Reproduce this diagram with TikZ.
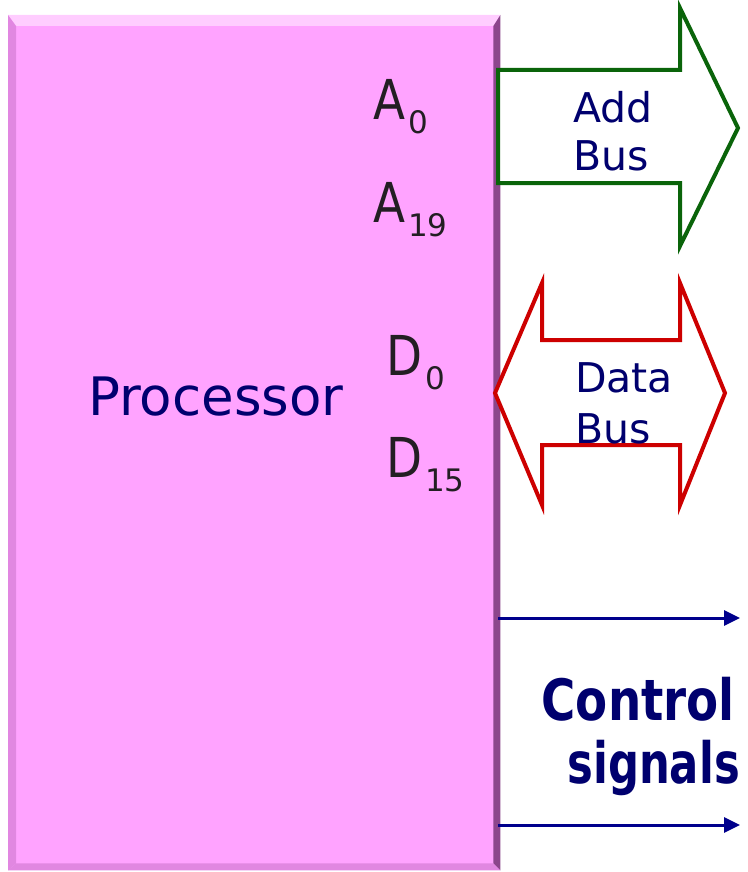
\documentclass[tikz,border=0pt]{standalone}
\usepackage{fontspec}
\usepackage{graphicx}
\usetikzlibrary{arrows.meta}
\setmainfont{DejaVu Sans}
\newfontfamily\lblfont[FakeStretch=0.85]{DejaVu Sans}
\newfontfamily\ctlfont[FakeStretch=0.82]{DejaVu Sans Bold}
\newfontfamily\sigfont[FakeStretch=0.76]{DejaVu Sans Bold}
\definecolor{procpink}{RGB}{255,163,255}
\definecolor{bevlight}{RGB}{255,205,255}
\definecolor{bevdark}{RGB}{140,70,140}
\definecolor{bevmid}{RGB}{225,135,225}
\definecolor{navytext}{RGB}{0,0,110}
\definecolor{labeltext}{RGB}{35,30,35}
\definecolor{addgreen}{RGB}{10,100,10}
\definecolor{datared}{RGB}{205,0,0}
\definecolor{ctlblue}{RGB}{0,0,140}
\tikzset{
  txt/.style={inner sep=0pt, anchor=base west, text=navytext},
  lbl/.style={inner sep=0pt, anchor=base west, text=labeltext, font=\lblfont\fontsize{55}{55}\selectfont},
  busshape/.style={line width=4pt, line join=miter, fill=white},
  ctl/.style={line width=3pt, draw=ctlblue, -{Triangle[length=16pt,width=15pt]}}
}
\newcommand{\subtxt}[1]{\kern3pt\raisebox{-14pt}{\rmfamily\fontsize{31}{31}\selectfont #1}}
\begin{document}
\begin{tikzpicture}[x=1pt,y=-1pt]
\useasboundingbox (0,0) rectangle (747,872);
% processor box with bevel
\node (box) [draw=none, fill=procpink, minimum width=492pt, minimum height=855pt, inner sep=0pt, anchor=north west] at (8,15) {};
\fill[bevlight] (box.north west) -- (box.north east) -- ([shift={(-7pt,-11pt)}]box.north east) -- ([shift={(8pt,-11pt)}]box.north west) -- cycle;
\fill[bevdark] (box.north east) -- (box.south east) -- ([shift={(-7pt,7pt)}]box.south east) -- ([shift={(-7pt,-11pt)}]box.north east) -- cycle;
\fill[bevmid] (box.north west) -- ([shift={(8pt,-11pt)}]box.north west) -- ([shift={(8pt,7pt)}]box.south west) -- (box.south west) -- cycle;
\fill[bevmid] (box.south west) -- ([shift={(8pt,7pt)}]box.south west) -- ([shift={(-7pt,7pt)}]box.south east) -- (box.south east) -- cycle;
% processor text
\node (proc) [txt, font=\fontsize{53}{53}\selectfont] at (88,415) {Processor};
% pin labels
\node (a0) [lbl] at (373,120) {A\subtxt{0}};
\node (a19) [lbl] at (373,222) {A\subtxt{19}};
\node (d0) [lbl] at (386,375) {D\subtxt{0}};
\node (d15) [lbl] at (386,477) {D\subtxt{15}};
% address bus arrow
\draw[busshape, draw=addgreen] (498,70) -- (680,70) -- (680,8) -- (738,128) -- (680,246) -- (680,183) -- (498,183) -- cycle;
\node (addt) [txt, font=\fontsize{41}{41}\selectfont] at (573,122) {Add};
\node (addb) [txt, font=\fontsize{41}{41}\selectfont] at (573,170) {Bus};
% data bus arrow
\draw[busshape, draw=datared] (495,393) -- (542,283) -- (542,340) -- (680,340) -- (680,283) -- (725,393) -- (680,505) -- (680,445) -- (542,445) -- (542,505) -- cycle;
\node (datat) [txt, font=\fontsize{41}{41}\selectfont] at (575,392) {Data};
\node (datab) [txt, font=\fontsize{41}{41}\selectfont] at (575,443) {Bus};
% control signals
\coordinate (c1s) at (498,618);
\coordinate (c1e) at (740,618);
\coordinate (c2s) at (498,825);
\coordinate (c2e) at (740,825);
\draw[ctl] (c1s) -- (c1e);
\draw[ctl] (c2s) -- (c2e);
\node (ctlt) [inner sep=0pt, anchor=base east, text=navytext, font=\ctlfont\fontsize{57}{57}\selectfont] at (735,720) {Control};
\node (ctlb) [inner sep=0pt, anchor=base east, text=navytext, font=\sigfont\fontsize{57}{57}\selectfont] at (740,783) {signals};
\end{tikzpicture}
\end{document}
